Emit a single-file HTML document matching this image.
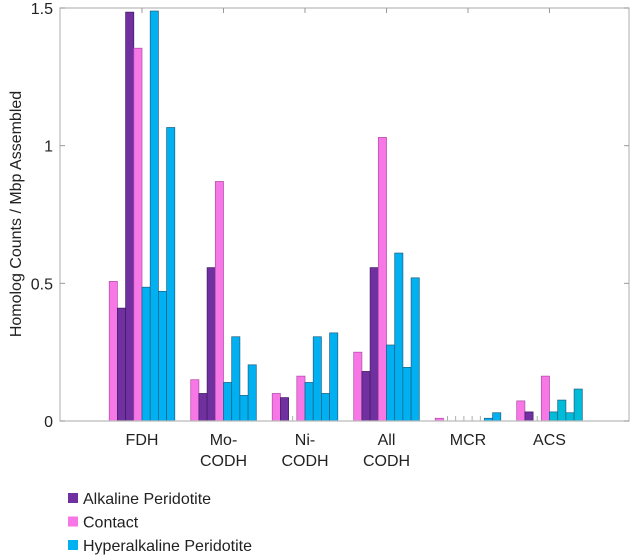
<!DOCTYPE html>
<html><head><meta charset="utf-8"><style>
html,body{margin:0;padding:0;background:#fff;}
svg{display:block;font-family:"Liberation Sans",sans-serif;}
</style></head><body>
<svg id="chart" width="630" height="557">
<g id="bars"></g>
<g id="axes"></g>
</svg>
<script>
const categories = [["FDH"],["Mo-","CODH"],["Ni-","CODH"],["All","CODH"],["MCR"],["ACS"]];
const barSeries = ["Contact","Alkaline Peridotite","Alkaline Peridotite","Contact","Hyperalkaline Peridotite","Hyperalkaline Peridotite","Hyperalkaline Peridotite","Hyperalkaline Peridotite"];
const valuesFDH = [0.507,0.41,1.485,1.354,0.486,1.489,0.471,1.066];
const valuesMo = [0.15,0.1,0.557,0.87,0.14,0.306,0.093,0.204];
const valuesNi = [0.1,0.085,0,0.163,0.14,0.306,0.1,0.32];
const valuesAll = [0.25,0.18,0.557,1.03,0.276,0.61,0.195,0.52];
const valuesMCR = [0.01,0,0,0,0,0,0.01,0.03];
const valuesACS = [0.073,0.033,0,0.163,0.033,0.076,0.03,0.116];
const yTicks = [0,0.5,1,1.5];
const yTickLabels = ["0","0.5","1","1.5"];
const legendLabels = ["Alkaline Peridotite","Contact","Hyperalkaline Peridotite"];

const allValues = [valuesFDH,valuesMo,valuesNi,valuesAll,valuesMCR,valuesACS];
const NS="http://www.w3.org/2000/svg";
const X0=60,X1=629,Y0=421,Y1=8,YMAX=1.5;
const BW=8.2, GSTEP=81.5, G0=142;
function y(v){return Y0-(v/YMAX)*(Y0-Y1);}
function gx(i){return G0+GSTEP*i;}
const fill={"Contact":"#f777e6","Alkaline Peridotite":"#7030a0","Hyperalkaline Peridotite":"#00b0f0"};
const stroke={"Contact":"#b04aa5","Alkaline Peridotite":"#3f1a60","Hyperalkaline Peridotite":"#1e5f80"};
function mk(tag,attrs,parent){const e=document.createElementNS(NS,tag);for(const k in attrs)e.setAttribute(k,attrs[k]);parent.appendChild(e);return e;}
const bars=document.getElementById('bars'), axes=document.getElementById('axes');
allValues.forEach((vals,gi)=>{
  vals.forEach((v,bi)=>{
    const s=barSeries[bi];
    const x=gx(gi)-4*BW+bi*BW;
    if(v>0){
      const r=mk('rect',{x:x,y:y(v),width:BW,height:Y0-y(v),fill:(gi===5&&s.startsWith('Hyper'))?'#00bcd8':fill[s],stroke:stroke[s],'stroke-width':0.7},bars);
      
      
    } else {
      const l=mk('line',{x1:x+BW/2,x2:x+BW/2,y1:Y0-5,y2:Y0,stroke:'#999','stroke-width':0.8},bars);
      
      
    }
  });
  categories[gi].forEach((t,li)=>{
    const tx=mk('text',{x:gx(gi),y:445+li*21,'font-size':16,'text-anchor':'middle',fill:'#222'},axes);
    tx.textContent=t;
    
    
  });
});
// box
const box=mk('path',{d:`M${X0},${Y0}V${Y1}H${X1}V${Y0}Z`,fill:'none',stroke:'#bbb','stroke-width':1.2},axes);


yTicks.forEach((t,i)=>{
  const yy=y(t);
  mk('line',{x1:X0,x2:X0+5,y1:yy,y2:yy,stroke:'#999'},axes);
  mk('line',{x1:X1-5,x2:X1,y1:yy,y2:yy,stroke:'#999'},axes);
  const tx=mk('text',{x:53,y:yy+6,'font-size':16,'text-anchor':'end',fill:'#222'},axes);
  tx.textContent=yTickLabels[i];
  
  
});
for(let i=0;i<categories.length;i++){
  mk('line',{x1:gx(i),x2:gx(i),y1:Y1,y2:Y1+5,stroke:'#999'},axes);
}
const yt=mk('text',{x:0,y:0,'font-size':16,'text-anchor':'middle',fill:'#222',transform:'translate(21,214) rotate(-90)'},axes);
yt.textContent='Homolog Counts / Mbp Assembled';


legendLabels.forEach((l,i)=>{
  const yy=499+i*23.5;
  const sq=mk('rect',{x:68,y:yy-6,width:10,height:10,fill:fill[l]},axes);
  
  
  const tx=mk('text',{x:83,y:yy+5,'font-size':16,fill:'#222'},axes);
  tx.textContent=l;
  
  
});
</script>
</body></html>
